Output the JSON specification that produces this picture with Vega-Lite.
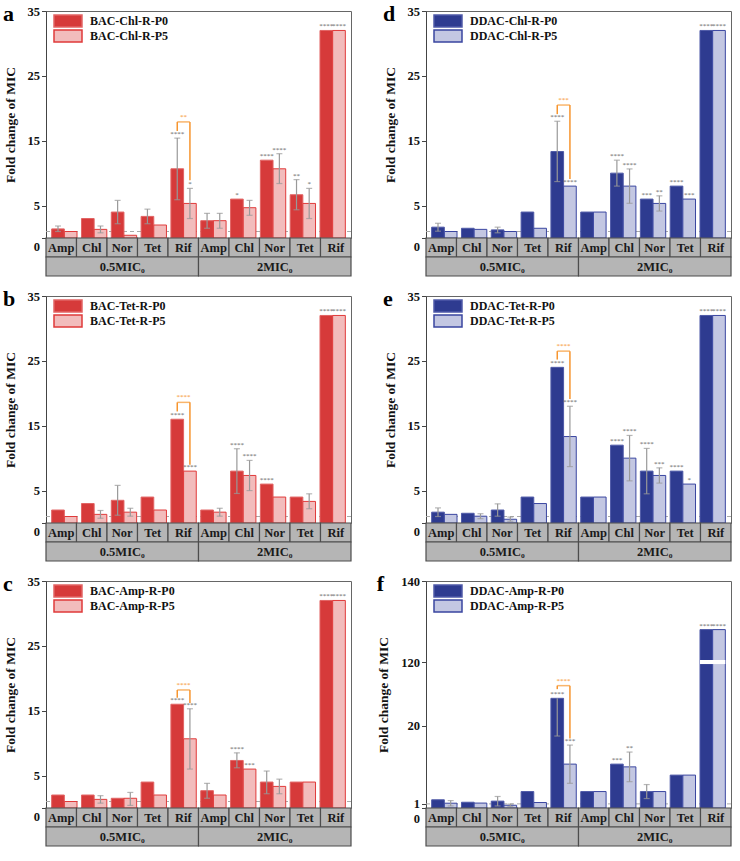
{
"$schema": "https://vega.github.io/schema/vega-lite/v6.json",
"padding": {"left": 2, "top": 2, "right": 2, "bottom": 2},
"background": "white",
"config": {
  "font": "Liberation Serif",
  "view": {"stroke": "#666666"},
  "axis": {"labelFont": "Liberation Serif", "labelFontWeight": "bold", "labelFontSize": 12.5, "labelColor": "#111111", "titleFont": "Liberation Serif", "titleFontWeight": "bold", "titleFontSize": 13.5, "titleColor": "#111111", "domainColor": "#444444", "tickColor": "#444444", "grid": false, "labelPadding": 2, "titlePadding": 10, "tickSize": 4.5, "labelOverlap": false, "labelFlush": false},
  "legend": {"title": null, "orient": "top-left", "offset": 4, "symbolType": "M-1,-3H13V3H-1Z", "symbolSize": 16, "symbolStrokeWidth": 1.5, "labelFontSize": 12, "labelFont": "Liberation Serif", "labelFontWeight": "bold", "labelColor": "#111111", "rowPadding": -3, "labelOffset": 28},
  "title": {"font": "Liberation Serif", "fontSize": 22, "fontWeight": "bold", "anchor": "start", "frame": "bounds", "offset": -21, "color": "#000000"}
},
"datasets": {
  "cells": [{"g":"0.5-Amp","lab":"Amp"},{"g":"0.5-Chl","lab":"Chl"},{"g":"0.5-Nor","lab":"Nor"},{"g":"0.5-Tet","lab":"Tet"},{"g":"0.5-Rif","lab":"Rif"},{"g":"2-Amp","lab":"Amp"},{"g":"2-Chl","lab":"Chl"},{"g":"2-Nor","lab":"Nor"},{"g":"2-Tet","lab":"Tet"},{"g":"2-Rif","lab":"Rif"}],
  "conc": [{"c":"0.5","lab":"0.5MIC₀"},{"c":"2","lab":"2MIC₀"}],
  "a": [
    {"g":"0.5-Amp","s":"BAC-Chl-R-P0","v":1.4,"lo":1.0,"hi":1.85,"sig":""},
    {"g":"0.5-Amp","s":"BAC-Chl-R-P5","v":1.0,"lo":1.0,"hi":1.0,"sig":""},
    {"g":"0.5-Chl","s":"BAC-Chl-R-P0","v":3.0,"lo":3.0,"hi":3.0,"sig":""},
    {"g":"0.5-Chl","s":"BAC-Chl-R-P5","v":1.33,"lo":0.8,"hi":1.85,"sig":""},
    {"g":"0.5-Nor","s":"BAC-Chl-R-P0","v":4.0,"lo":2.2,"hi":5.8,"sig":""},
    {"g":"0.5-Nor","s":"BAC-Chl-R-P5","v":0.42,"lo":0.42,"hi":0.42,"sig":""},
    {"g":"0.5-Tet","s":"BAC-Chl-R-P0","v":3.33,"lo":2.2,"hi":4.45,"sig":""},
    {"g":"0.5-Tet","s":"BAC-Chl-R-P5","v":2.0,"lo":2.0,"hi":2.0,"sig":""},
    {"g":"0.5-Rif","s":"BAC-Chl-R-P0","v":10.67,"lo":5.9,"hi":15.4,"sig":"****"},
    {"g":"0.5-Rif","s":"BAC-Chl-R-P5","v":5.33,"lo":3.0,"hi":7.65,"sig":"*"},
    {"g":"2-Amp","s":"BAC-Chl-R-P0","v":2.67,"lo":1.5,"hi":3.8,"sig":""},
    {"g":"2-Amp","s":"BAC-Chl-R-P5","v":2.67,"lo":1.5,"hi":3.8,"sig":""},
    {"g":"2-Chl","s":"BAC-Chl-R-P0","v":6.0,"lo":6.0,"hi":6.0,"sig":"*"},
    {"g":"2-Chl","s":"BAC-Chl-R-P5","v":4.67,"lo":3.5,"hi":5.8,"sig":""},
    {"g":"2-Nor","s":"BAC-Chl-R-P0","v":12.0,"lo":12.0,"hi":12.0,"sig":"****"},
    {"g":"2-Nor","s":"BAC-Chl-R-P5","v":10.67,"lo":8.4,"hi":13.0,"sig":"****"},
    {"g":"2-Tet","s":"BAC-Chl-R-P0","v":6.67,"lo":4.35,"hi":9.0,"sig":"**"},
    {"g":"2-Tet","s":"BAC-Chl-R-P5","v":5.33,"lo":3.0,"hi":7.65,"sig":"*"},
    {"g":"2-Rif","s":"BAC-Chl-R-P0","v":32,"lo":32,"hi":32,"sig":"****"},
    {"g":"2-Rif","s":"BAC-Chl-R-P5","v":32,"lo":32,"hi":32,"sig":"****"}
  ],
  "a_br": [{"g":"0.5-Rif","s":"BAC-Chl-R-P0","y1":16.5,"y2":17.9},{"g":"0.5-Rif","s":"BAC-Chl-R-P5","y1":8.9,"y2":17.9}],
  "a_bt": [{"g":"0.5-Rif","t":17.9,"lab":"**"}],
  "d": [
    {"g":"0.5-Amp","s":"DDAC-Chl-R-P0","v":1.67,"lo":1.05,"hi":2.27,"sig":""},
    {"g":"0.5-Amp","s":"DDAC-Chl-R-P5","v":1.0,"lo":1.0,"hi":1.0,"sig":""},
    {"g":"0.5-Chl","s":"DDAC-Chl-R-P0","v":1.5,"lo":1.5,"hi":1.5,"sig":""},
    {"g":"0.5-Chl","s":"DDAC-Chl-R-P5","v":1.33,"lo":1.33,"hi":1.33,"sig":""},
    {"g":"0.5-Nor","s":"DDAC-Chl-R-P0","v":1.25,"lo":0.8,"hi":1.67,"sig":""},
    {"g":"0.5-Nor","s":"DDAC-Chl-R-P5","v":1.0,"lo":1.0,"hi":1.0,"sig":""},
    {"g":"0.5-Tet","s":"DDAC-Chl-R-P0","v":4.0,"lo":4.0,"hi":4.0,"sig":""},
    {"g":"0.5-Tet","s":"DDAC-Chl-R-P5","v":1.5,"lo":1.5,"hi":1.5,"sig":""},
    {"g":"0.5-Rif","s":"DDAC-Chl-R-P0","v":13.33,"lo":8.7,"hi":18.0,"sig":"****"},
    {"g":"0.5-Rif","s":"DDAC-Chl-R-P5","v":8.0,"lo":8.0,"hi":8.0,"sig":"****"},
    {"g":"2-Amp","s":"DDAC-Chl-R-P0","v":4.0,"lo":4.0,"hi":4.0,"sig":""},
    {"g":"2-Amp","s":"DDAC-Chl-R-P5","v":4.0,"lo":4.0,"hi":4.0,"sig":""},
    {"g":"2-Chl","s":"DDAC-Chl-R-P0","v":10.0,"lo":8.0,"hi":12.0,"sig":"****"},
    {"g":"2-Chl","s":"DDAC-Chl-R-P5","v":8.0,"lo":5.35,"hi":10.65,"sig":"****"},
    {"g":"2-Nor","s":"DDAC-Chl-R-P0","v":6.0,"lo":6.0,"hi":6.0,"sig":"***"},
    {"g":"2-Nor","s":"DDAC-Chl-R-P5","v":5.33,"lo":4.15,"hi":6.5,"sig":"**"},
    {"g":"2-Tet","s":"DDAC-Chl-R-P0","v":8.0,"lo":8.0,"hi":8.0,"sig":"****"},
    {"g":"2-Tet","s":"DDAC-Chl-R-P5","v":6.0,"lo":6.0,"hi":6.0,"sig":"***"},
    {"g":"2-Rif","s":"DDAC-Chl-R-P0","v":32,"lo":32,"hi":32,"sig":"****"},
    {"g":"2-Rif","s":"DDAC-Chl-R-P5","v":32,"lo":32,"hi":32,"sig":"****"}
  ],
  "d_br": [{"g":"0.5-Rif","s":"DDAC-Chl-R-P0","y1":19.1,"y2":20.5},{"g":"0.5-Rif","s":"DDAC-Chl-R-P5","y1":9.1,"y2":20.5}],
  "d_bt": [{"g":"0.5-Rif","t":20.5,"lab":"***"}],
  "b": [
    {"g":"0.5-Amp","s":"BAC-Tet-R-P0","v":2.0,"lo":2.0,"hi":2.0,"sig":""},
    {"g":"0.5-Amp","s":"BAC-Tet-R-P5","v":1.0,"lo":1.0,"hi":1.0,"sig":""},
    {"g":"0.5-Chl","s":"BAC-Tet-R-P0","v":3.0,"lo":3.0,"hi":3.0,"sig":""},
    {"g":"0.5-Chl","s":"BAC-Tet-R-P5","v":1.33,"lo":0.73,"hi":1.93,"sig":""},
    {"g":"0.5-Nor","s":"BAC-Tet-R-P0","v":3.5,"lo":1.2,"hi":5.8,"sig":""},
    {"g":"0.5-Nor","s":"BAC-Tet-R-P5","v":1.67,"lo":1.05,"hi":2.27,"sig":""},
    {"g":"0.5-Tet","s":"BAC-Tet-R-P0","v":4.0,"lo":4.0,"hi":4.0,"sig":""},
    {"g":"0.5-Tet","s":"BAC-Tet-R-P5","v":2.0,"lo":2.0,"hi":2.0,"sig":""},
    {"g":"0.5-Rif","s":"BAC-Tet-R-P0","v":16.0,"lo":16.0,"hi":16.0,"sig":"****"},
    {"g":"0.5-Rif","s":"BAC-Tet-R-P5","v":8.0,"lo":8.0,"hi":8.0,"sig":"****"},
    {"g":"2-Amp","s":"BAC-Tet-R-P0","v":2.0,"lo":2.0,"hi":2.0,"sig":""},
    {"g":"2-Amp","s":"BAC-Tet-R-P5","v":1.67,"lo":1.05,"hi":2.27,"sig":""},
    {"g":"2-Chl","s":"BAC-Tet-R-P0","v":8.0,"lo":4.55,"hi":11.45,"sig":"****"},
    {"g":"2-Chl","s":"BAC-Tet-R-P5","v":7.33,"lo":5.0,"hi":9.65,"sig":"****"},
    {"g":"2-Nor","s":"BAC-Tet-R-P0","v":6.0,"lo":6.0,"hi":6.0,"sig":"****"},
    {"g":"2-Nor","s":"BAC-Tet-R-P5","v":4.0,"lo":4.0,"hi":4.0,"sig":""},
    {"g":"2-Tet","s":"BAC-Tet-R-P0","v":4.0,"lo":4.0,"hi":4.0,"sig":""},
    {"g":"2-Tet","s":"BAC-Tet-R-P5","v":3.33,"lo":2.2,"hi":4.5,"sig":""},
    {"g":"2-Rif","s":"BAC-Tet-R-P0","v":32,"lo":32,"hi":32,"sig":"****"},
    {"g":"2-Rif","s":"BAC-Tet-R-P5","v":32,"lo":32,"hi":32,"sig":"****"}
  ],
  "b_br": [{"g":"0.5-Rif","s":"BAC-Tet-R-P0","y1":17.2,"y2":18.6},{"g":"0.5-Rif","s":"BAC-Tet-R-P5","y1":9.0,"y2":18.6}],
  "b_bt": [{"g":"0.5-Rif","t":18.6,"lab":"****"}],
  "e": [
    {"g":"0.5-Amp","s":"DDAC-Tet-R-P0","v":1.67,"lo":1.0,"hi":2.33,"sig":""},
    {"g":"0.5-Amp","s":"DDAC-Tet-R-P5","v":1.33,"lo":1.33,"hi":1.33,"sig":""},
    {"g":"0.5-Chl","s":"DDAC-Tet-R-P0","v":1.5,"lo":1.5,"hi":1.5,"sig":""},
    {"g":"0.5-Chl","s":"DDAC-Tet-R-P5","v":1.05,"lo":0.67,"hi":1.43,"sig":""},
    {"g":"0.5-Nor","s":"DDAC-Tet-R-P0","v":2.0,"lo":1.05,"hi":2.95,"sig":""},
    {"g":"0.5-Nor","s":"DDAC-Tet-R-P5","v":0.58,"lo":0.27,"hi":0.92,"sig":""},
    {"g":"0.5-Tet","s":"DDAC-Tet-R-P0","v":4.0,"lo":4.0,"hi":4.0,"sig":""},
    {"g":"0.5-Tet","s":"DDAC-Tet-R-P5","v":3.0,"lo":3.0,"hi":3.0,"sig":""},
    {"g":"0.5-Rif","s":"DDAC-Tet-R-P0","v":24.0,"lo":24.0,"hi":24.0,"sig":"****"},
    {"g":"0.5-Rif","s":"DDAC-Tet-R-P5","v":13.33,"lo":8.7,"hi":18.0,"sig":"****"},
    {"g":"2-Amp","s":"DDAC-Tet-R-P0","v":4.0,"lo":4.0,"hi":4.0,"sig":""},
    {"g":"2-Amp","s":"DDAC-Tet-R-P5","v":4.0,"lo":4.0,"hi":4.0,"sig":""},
    {"g":"2-Chl","s":"DDAC-Tet-R-P0","v":12.0,"lo":12.0,"hi":12.0,"sig":"****"},
    {"g":"2-Chl","s":"DDAC-Tet-R-P5","v":10.0,"lo":6.5,"hi":13.5,"sig":"****"},
    {"g":"2-Nor","s":"DDAC-Tet-R-P0","v":8.0,"lo":4.5,"hi":11.5,"sig":"****"},
    {"g":"2-Nor","s":"DDAC-Tet-R-P5","v":7.33,"lo":6.15,"hi":8.5,"sig":"***"},
    {"g":"2-Tet","s":"DDAC-Tet-R-P0","v":8.0,"lo":8.0,"hi":8.0,"sig":"****"},
    {"g":"2-Tet","s":"DDAC-Tet-R-P5","v":6.0,"lo":6.0,"hi":6.0,"sig":"*"},
    {"g":"2-Rif","s":"DDAC-Tet-R-P0","v":32,"lo":32,"hi":32,"sig":"****"},
    {"g":"2-Rif","s":"DDAC-Tet-R-P5","v":32,"lo":32,"hi":32,"sig":"****"}
  ],
  "e_br": [{"g":"0.5-Rif","s":"DDAC-Tet-R-P0","y1":25.2,"y2":26.5},{"g":"0.5-Rif","s":"DDAC-Tet-R-P5","y1":19.1,"y2":26.5}],
  "e_bt": [{"g":"0.5-Rif","t":26.5,"lab":"****"}],
  "c": [
    {"g":"0.5-Amp","s":"BAC-Amp-R-P0","v":2.0,"lo":2.0,"hi":2.0,"sig":""},
    {"g":"0.5-Amp","s":"BAC-Amp-R-P5","v":1.0,"lo":1.0,"hi":1.0,"sig":""},
    {"g":"0.5-Chl","s":"BAC-Amp-R-P0","v":2.0,"lo":2.0,"hi":2.0,"sig":""},
    {"g":"0.5-Chl","s":"BAC-Amp-R-P5","v":1.33,"lo":0.75,"hi":1.9,"sig":""},
    {"g":"0.5-Nor","s":"BAC-Amp-R-P0","v":1.5,"lo":1.5,"hi":1.5,"sig":""},
    {"g":"0.5-Nor","s":"BAC-Amp-R-P5","v":1.5,"lo":0.4,"hi":2.4,"sig":""},
    {"g":"0.5-Tet","s":"BAC-Amp-R-P0","v":4.0,"lo":4.0,"hi":4.0,"sig":""},
    {"g":"0.5-Tet","s":"BAC-Amp-R-P5","v":2.0,"lo":2.0,"hi":2.0,"sig":""},
    {"g":"0.5-Rif","s":"BAC-Amp-R-P0","v":16.0,"lo":16.0,"hi":16.0,"sig":"****"},
    {"g":"0.5-Rif","s":"BAC-Amp-R-P5","v":10.67,"lo":6.0,"hi":15.3,"sig":"****"},
    {"g":"2-Amp","s":"BAC-Amp-R-P0","v":2.67,"lo":1.5,"hi":3.8,"sig":""},
    {"g":"2-Amp","s":"BAC-Amp-R-P5","v":2.0,"lo":2.0,"hi":2.0,"sig":""},
    {"g":"2-Chl","s":"BAC-Amp-R-P0","v":7.33,"lo":6.2,"hi":8.5,"sig":"****"},
    {"g":"2-Chl","s":"BAC-Amp-R-P5","v":6.0,"lo":6.0,"hi":6.0,"sig":"***"},
    {"g":"2-Nor","s":"BAC-Amp-R-P0","v":4.0,"lo":2.2,"hi":5.7,"sig":""},
    {"g":"2-Nor","s":"BAC-Amp-R-P5","v":3.33,"lo":2.2,"hi":4.45,"sig":""},
    {"g":"2-Tet","s":"BAC-Amp-R-P0","v":4.0,"lo":4.0,"hi":4.0,"sig":""},
    {"g":"2-Tet","s":"BAC-Amp-R-P5","v":4.0,"lo":4.0,"hi":4.0,"sig":""},
    {"g":"2-Rif","s":"BAC-Amp-R-P0","v":32,"lo":32,"hi":32,"sig":"****"},
    {"g":"2-Rif","s":"BAC-Amp-R-P5","v":32,"lo":32,"hi":32,"sig":"****"}
  ],
  "c_br": [{"g":"0.5-Rif","s":"BAC-Amp-R-P0","y1":17.0,"y2":18.2},{"g":"0.5-Rif","s":"BAC-Amp-R-P5","y1":16.2,"y2":18.2}],
  "c_bt": [{"g":"0.5-Rif","t":18.2,"lab":"****"}],
  "f": [
    {"g":"0.5-Amp","s":"DDAC-Amp-R-P0","v":2.0,"lo":2.0,"hi":2.0,"sig":""},
    {"g":"0.5-Amp","s":"DDAC-Amp-R-P5","v":1.17,"lo":0.5,"hi":1.8,"sig":""},
    {"g":"0.5-Chl","s":"DDAC-Amp-R-P0","v":1.4,"lo":1.4,"hi":1.4,"sig":""},
    {"g":"0.5-Chl","s":"DDAC-Amp-R-P5","v":1.2,"lo":1.2,"hi":1.2,"sig":""},
    {"g":"0.5-Nor","s":"DDAC-Amp-R-P0","v":1.67,"lo":0.5,"hi":2.8,"sig":""},
    {"g":"0.5-Nor","s":"DDAC-Amp-R-P5","v":0.67,"lo":0.35,"hi":0.95,"sig":""},
    {"g":"0.5-Tet","s":"DDAC-Amp-R-P0","v":4.0,"lo":4.0,"hi":4.0,"sig":""},
    {"g":"0.5-Tet","s":"DDAC-Amp-R-P5","v":1.33,"lo":1.33,"hi":1.33,"sig":""},
    {"g":"0.5-Rif","s":"DDAC-Amp-R-P0","v":26.67,"lo":17.5,"hi":26.67,"sig":"****"},
    {"g":"0.5-Rif","s":"DDAC-Amp-R-P5","v":10.67,"lo":6.0,"hi":15.3,"sig":"***"},
    {"g":"2-Amp","s":"DDAC-Amp-R-P0","v":4.0,"lo":4.0,"hi":4.0,"sig":""},
    {"g":"2-Amp","s":"DDAC-Amp-R-P5","v":4.0,"lo":4.0,"hi":4.0,"sig":""},
    {"g":"2-Chl","s":"DDAC-Amp-R-P0","v":10.67,"lo":10.67,"hi":10.67,"sig":"***"},
    {"g":"2-Chl","s":"DDAC-Amp-R-P5","v":10.0,"lo":6.4,"hi":13.6,"sig":"**"},
    {"g":"2-Nor","s":"DDAC-Amp-R-P0","v":4.0,"lo":2.3,"hi":5.7,"sig":""},
    {"g":"2-Nor","s":"DDAC-Amp-R-P5","v":4.0,"lo":4.0,"hi":4.0,"sig":""},
    {"g":"2-Tet","s":"DDAC-Amp-R-P0","v":8.0,"lo":8.0,"hi":8.0,"sig":""},
    {"g":"2-Tet","s":"DDAC-Amp-R-P5","v":8.0,"lo":8.0,"hi":8.0,"sig":""},
    {"g":"2-Rif","s":"DDAC-Amp-R-P0","v":128,"lo":128,"hi":128,"sig":"****"},
    {"g":"2-Rif","s":"DDAC-Amp-R-P5","v":128,"lo":128,"hi":128,"sig":"****"}
  ],
  "f_br": [{"g":"0.5-Rif","s":"DDAC-Amp-R-P0","y1":28.9,"y2":29.75},{"g":"0.5-Rif","s":"DDAC-Amp-R-P5","y1":16.9,"y2":29.75}],
  "f_bt": [{"g":"0.5-Rif","t":29.75,"lab":"****"}],
  "f_gap": [{"g":"2-Rif","b1":35,"b2":120.5}]
},
"concat": [
 {"vconcat": [
  {"width":305,"height":227,"title":{"text":"a"},
   "layer":[
    {"data":{"values":[{}]},"mark":{"type":"rule","color":"#aaaaaa","strokeDash":[4,3],"strokeWidth":1},"encoding":{"y":{"datum":1,"type":"quantitative","scale":{"domain":[0,35],"nice":false},"axis":{"title":"Fold change of MIC","labelOverlap":false,"labelFlush":false,"values":[0,1,5,10,15,20,25,30,35],"labelOffset":{"condition":{"test":"datum.value == 0","value":8.5},"value":0}}}}},
    {"data":{"name":"a"},"mark":{"type":"bar","strokeWidth":1},
     "encoding":{
      "x":{"field":"g","type":"nominal","sort":null,"scale":{"domain":["0.5-Amp","0.5-Chl","0.5-Nor","0.5-Tet","0.5-Rif","2-Amp","2-Chl","2-Nor","2-Tet","2-Rif"],"paddingInner":0.15,"paddingOuter":0.19},"axis":null},
      "xOffset":{"field":"s","type":"nominal","scale":{"paddingInner":0,"paddingOuter":0}},
      "y":{"field":"v","type":"quantitative","scale":{"domain":[0,35],"nice":false},"axis":{"title":"Fold change of MIC","labelOverlap":false,"labelFlush":false,"values":[0,1,5,10,15,20,25,30,35],"labelOffset":{"condition":{"test":"datum.value == 0","value":8.5},"value":0}}},
      "fill":{"field":"s","type":"nominal","scale":{"range":["#d63a3a","#f2bcbc"]}},
      "stroke":{"field":"s","type":"nominal","scale":{"range":["#e26464","#e03a3a"]}}}},
    {"data":{"name":"a"},"transform":[{"filter":"datum.hi > datum.lo"}],"mark":{"type":"rule","color":"#999999","strokeWidth":1.2},
     "encoding":{"x":{"field":"g","type":"nominal"},"xOffset":{"field":"s","type":"nominal"},"y":{"field":"lo","type":"quantitative"},"y2":{"field":"hi"}}},
    {"data":{"name":"a"},"transform":[{"filter":"datum.lo < datum.v"}],"mark":{"type":"tick","color":"#999999","size":6,"thickness":1.2},
     "encoding":{"x":{"field":"g","type":"nominal"},"xOffset":{"field":"s","type":"nominal"},"y":{"field":"lo","type":"quantitative"}}},
    {"data":{"name":"a"},"transform":[{"filter":"datum.hi > datum.v"}],"mark":{"type":"tick","color":"#999999","size":6,"thickness":1.2},
     "encoding":{"x":{"field":"g","type":"nominal"},"xOffset":{"field":"s","type":"nominal"},"y":{"field":"hi","type":"quantitative"}}},
    {"data":{"name":"a"},"mark":{"type":"text","fontSize":7,"color":"#666666","baseline":"bottom","dy":-1},
     "encoding":{"x":{"field":"g","type":"nominal"},"xOffset":{"field":"s","type":"nominal"},"y":{"field":"hi","type":"quantitative"},"text":{"field":"sig"}}},
    {"data":{"name":"a_br"},"mark":{"type":"rule","color":"#f7952e","strokeWidth":1.5},
     "encoding":{"x":{"field":"g","type":"nominal"},"xOffset":{"field":"s","type":"nominal"},"y":{"field":"y1","type":"quantitative"},"y2":{"field":"y2"}}},
    {"data":{"name":"a_bt"},"mark":{"type":"tick","color":"#f7952e","size":12.7,"thickness":1.5},
     "encoding":{"x":{"field":"g","type":"nominal"},"y":{"field":"t","type":"quantitative"}}},
    {"data":{"name":"a_bt"},"mark":{"type":"text","color":"#f7952e","fontSize":7,"baseline":"bottom","dy":-2},
     "encoding":{"x":{"field":"g","type":"nominal"},"y":{"field":"t","type":"quantitative"},"text":{"field":"lab"}}}
   ]},
  {"width":305,"height":19,"view":{"stroke":null},"data":{"name":"cells"},"layer":[
    {"mark":{"type":"rect","fill":"#b5b5b5","stroke":"#4d4d4d","strokeWidth":1.2},"encoding":{"x":{"field":"g","type":"nominal","sort":null,"scale":{"paddingInner":0,"paddingOuter":0},"axis":null}}},
    {"mark":{"type":"text","fontWeight":"bold","fontSize":12.5,"color":"#1a1a1a"},"encoding":{"x":{"field":"g","type":"nominal","sort":null,"axis":null},"text":{"field":"lab"}}}]},
  {"width":305,"height":19,"view":{"stroke":null},"data":{"name":"conc"},"layer":[
    {"mark":{"type":"rect","fill":"#b5b5b5","stroke":"#4d4d4d","strokeWidth":1.2},"encoding":{"x":{"field":"c","type":"nominal","sort":null,"scale":{"paddingInner":0,"paddingOuter":0},"axis":null}}},
    {"mark":{"type":"text","fontWeight":"bold","fontSize":12.5,"color":"#1a1a1a"},"encoding":{"x":{"field":"c","type":"nominal","sort":null,"axis":null},"text":{"field":"lab"}}}]}
 ], "spacing":0, "bounds":"flush", "resolve":{"scale":{"x":"independent","y":"independent","xOffset":"independent","fill":"independent","stroke":"independent"},"legend":{"fill":"independent","stroke":"independent"}}},

 {"vconcat": [
  {"width":305,"height":227,"title":{"text":"d"},
   "layer":[
    {"data":{"values":[{}]},"mark":{"type":"rule","color":"#aaaaaa","strokeDash":[4,3],"strokeWidth":1},"encoding":{"y":{"datum":1,"type":"quantitative","scale":{"domain":[0,35],"nice":false},"axis":{"title":"Fold change of MIC","labelOverlap":false,"labelFlush":false,"values":[0,1,5,10,15,20,25,30,35],"labelOffset":{"condition":{"test":"datum.value == 0","value":8.5},"value":0}}}}},
    {"data":{"name":"d"},"mark":{"type":"bar","strokeWidth":1},
     "encoding":{
      "x":{"field":"g","type":"nominal","sort":null,"scale":{"domain":["0.5-Amp","0.5-Chl","0.5-Nor","0.5-Tet","0.5-Rif","2-Amp","2-Chl","2-Nor","2-Tet","2-Rif"],"paddingInner":0.15,"paddingOuter":0.19},"axis":null},
      "xOffset":{"field":"s","type":"nominal","scale":{"paddingInner":0,"paddingOuter":0}},
      "y":{"field":"v","type":"quantitative","scale":{"domain":[0,35],"nice":false},"axis":{"title":"Fold change of MIC","labelOverlap":false,"labelFlush":false,"values":[0,1,5,10,15,20,25,30,35],"labelOffset":{"condition":{"test":"datum.value == 0","value":8.5},"value":0}}},
      "fill":{"field":"s","type":"nominal","scale":{"range":["#2e3b90","#c3c7e2"]}},
      "stroke":{"field":"s","type":"nominal","scale":{"range":["#4f5aa8","#3a46a0"]}}}},
    {"data":{"name":"d"},"transform":[{"filter":"datum.hi > datum.lo"}],"mark":{"type":"rule","color":"#999999","strokeWidth":1.2},
     "encoding":{"x":{"field":"g","type":"nominal"},"xOffset":{"field":"s","type":"nominal"},"y":{"field":"lo","type":"quantitative"},"y2":{"field":"hi"}}},
    {"data":{"name":"d"},"transform":[{"filter":"datum.lo < datum.v"}],"mark":{"type":"tick","color":"#999999","size":6,"thickness":1.2},
     "encoding":{"x":{"field":"g","type":"nominal"},"xOffset":{"field":"s","type":"nominal"},"y":{"field":"lo","type":"quantitative"}}},
    {"data":{"name":"d"},"transform":[{"filter":"datum.hi > datum.v"}],"mark":{"type":"tick","color":"#999999","size":6,"thickness":1.2},
     "encoding":{"x":{"field":"g","type":"nominal"},"xOffset":{"field":"s","type":"nominal"},"y":{"field":"hi","type":"quantitative"}}},
    {"data":{"name":"d"},"mark":{"type":"text","fontSize":7,"color":"#666666","baseline":"bottom","dy":-1},
     "encoding":{"x":{"field":"g","type":"nominal"},"xOffset":{"field":"s","type":"nominal"},"y":{"field":"hi","type":"quantitative"},"text":{"field":"sig"}}},
    {"data":{"name":"d_br"},"mark":{"type":"rule","color":"#f7952e","strokeWidth":1.5},
     "encoding":{"x":{"field":"g","type":"nominal"},"xOffset":{"field":"s","type":"nominal"},"y":{"field":"y1","type":"quantitative"},"y2":{"field":"y2"}}},
    {"data":{"name":"d_bt"},"mark":{"type":"tick","color":"#f7952e","size":12.7,"thickness":1.5},
     "encoding":{"x":{"field":"g","type":"nominal"},"y":{"field":"t","type":"quantitative"}}},
    {"data":{"name":"d_bt"},"mark":{"type":"text","color":"#f7952e","fontSize":7,"baseline":"bottom","dy":-2},
     "encoding":{"x":{"field":"g","type":"nominal"},"y":{"field":"t","type":"quantitative"},"text":{"field":"lab"}}}
   ]},
  {"width":305,"height":19,"view":{"stroke":null},"data":{"name":"cells"},"layer":[
    {"mark":{"type":"rect","fill":"#b5b5b5","stroke":"#4d4d4d","strokeWidth":1.2},"encoding":{"x":{"field":"g","type":"nominal","sort":null,"scale":{"paddingInner":0,"paddingOuter":0},"axis":null}}},
    {"mark":{"type":"text","fontWeight":"bold","fontSize":12.5,"color":"#1a1a1a"},"encoding":{"x":{"field":"g","type":"nominal","sort":null,"axis":null},"text":{"field":"lab"}}}]},
  {"width":305,"height":19,"view":{"stroke":null},"data":{"name":"conc"},"layer":[
    {"mark":{"type":"rect","fill":"#b5b5b5","stroke":"#4d4d4d","strokeWidth":1.2},"encoding":{"x":{"field":"c","type":"nominal","sort":null,"scale":{"paddingInner":0,"paddingOuter":0},"axis":null}}},
    {"mark":{"type":"text","fontWeight":"bold","fontSize":12.5,"color":"#1a1a1a"},"encoding":{"x":{"field":"c","type":"nominal","sort":null,"axis":null},"text":{"field":"lab"}}}]}
 ], "spacing":0, "bounds":"flush", "resolve":{"scale":{"x":"independent","y":"independent","xOffset":"independent","fill":"independent","stroke":"independent"},"legend":{"fill":"independent","stroke":"independent"}}},

 {"vconcat": [
  {"width":305,"height":227,"title":{"text":"b"},
   "layer":[
    {"data":{"values":[{}]},"mark":{"type":"rule","color":"#aaaaaa","strokeDash":[4,3],"strokeWidth":1},"encoding":{"y":{"datum":1,"type":"quantitative","scale":{"domain":[0,35],"nice":false},"axis":{"title":"Fold change of MIC","labelOverlap":false,"labelFlush":false,"values":[0,1,5,10,15,20,25,30,35],"labelOffset":{"condition":{"test":"datum.value == 0","value":8.5},"value":0}}}}},
    {"data":{"name":"b"},"mark":{"type":"bar","strokeWidth":1},
     "encoding":{
      "x":{"field":"g","type":"nominal","sort":null,"scale":{"domain":["0.5-Amp","0.5-Chl","0.5-Nor","0.5-Tet","0.5-Rif","2-Amp","2-Chl","2-Nor","2-Tet","2-Rif"],"paddingInner":0.15,"paddingOuter":0.19},"axis":null},
      "xOffset":{"field":"s","type":"nominal","scale":{"paddingInner":0,"paddingOuter":0}},
      "y":{"field":"v","type":"quantitative","scale":{"domain":[0,35],"nice":false},"axis":{"title":"Fold change of MIC","labelOverlap":false,"labelFlush":false,"values":[0,1,5,10,15,20,25,30,35],"labelOffset":{"condition":{"test":"datum.value == 0","value":8.5},"value":0}}},
      "fill":{"field":"s","type":"nominal","scale":{"range":["#d63a3a","#f2bcbc"]}},
      "stroke":{"field":"s","type":"nominal","scale":{"range":["#e26464","#e03a3a"]}}}},
    {"data":{"name":"b"},"transform":[{"filter":"datum.hi > datum.lo"}],"mark":{"type":"rule","color":"#999999","strokeWidth":1.2},
     "encoding":{"x":{"field":"g","type":"nominal"},"xOffset":{"field":"s","type":"nominal"},"y":{"field":"lo","type":"quantitative"},"y2":{"field":"hi"}}},
    {"data":{"name":"b"},"transform":[{"filter":"datum.lo < datum.v"}],"mark":{"type":"tick","color":"#999999","size":6,"thickness":1.2},
     "encoding":{"x":{"field":"g","type":"nominal"},"xOffset":{"field":"s","type":"nominal"},"y":{"field":"lo","type":"quantitative"}}},
    {"data":{"name":"b"},"transform":[{"filter":"datum.hi > datum.v"}],"mark":{"type":"tick","color":"#999999","size":6,"thickness":1.2},
     "encoding":{"x":{"field":"g","type":"nominal"},"xOffset":{"field":"s","type":"nominal"},"y":{"field":"hi","type":"quantitative"}}},
    {"data":{"name":"b"},"mark":{"type":"text","fontSize":7,"color":"#666666","baseline":"bottom","dy":-1},
     "encoding":{"x":{"field":"g","type":"nominal"},"xOffset":{"field":"s","type":"nominal"},"y":{"field":"hi","type":"quantitative"},"text":{"field":"sig"}}},
    {"data":{"name":"b_br"},"mark":{"type":"rule","color":"#f7952e","strokeWidth":1.5},
     "encoding":{"x":{"field":"g","type":"nominal"},"xOffset":{"field":"s","type":"nominal"},"y":{"field":"y1","type":"quantitative"},"y2":{"field":"y2"}}},
    {"data":{"name":"b_bt"},"mark":{"type":"tick","color":"#f7952e","size":12.7,"thickness":1.5},
     "encoding":{"x":{"field":"g","type":"nominal"},"y":{"field":"t","type":"quantitative"}}},
    {"data":{"name":"b_bt"},"mark":{"type":"text","color":"#f7952e","fontSize":7,"baseline":"bottom","dy":-2},
     "encoding":{"x":{"field":"g","type":"nominal"},"y":{"field":"t","type":"quantitative"},"text":{"field":"lab"}}}
   ]},
  {"width":305,"height":19,"view":{"stroke":null},"data":{"name":"cells"},"layer":[
    {"mark":{"type":"rect","fill":"#b5b5b5","stroke":"#4d4d4d","strokeWidth":1.2},"encoding":{"x":{"field":"g","type":"nominal","sort":null,"scale":{"paddingInner":0,"paddingOuter":0},"axis":null}}},
    {"mark":{"type":"text","fontWeight":"bold","fontSize":12.5,"color":"#1a1a1a"},"encoding":{"x":{"field":"g","type":"nominal","sort":null,"axis":null},"text":{"field":"lab"}}}]},
  {"width":305,"height":19,"view":{"stroke":null},"data":{"name":"conc"},"layer":[
    {"mark":{"type":"rect","fill":"#b5b5b5","stroke":"#4d4d4d","strokeWidth":1.2},"encoding":{"x":{"field":"c","type":"nominal","sort":null,"scale":{"paddingInner":0,"paddingOuter":0},"axis":null}}},
    {"mark":{"type":"text","fontWeight":"bold","fontSize":12.5,"color":"#1a1a1a"},"encoding":{"x":{"field":"c","type":"nominal","sort":null,"axis":null},"text":{"field":"lab"}}}]}
 ], "spacing":0, "bounds":"flush", "resolve":{"scale":{"x":"independent","y":"independent","xOffset":"independent","fill":"independent","stroke":"independent"},"legend":{"fill":"independent","stroke":"independent"}}},

 {"vconcat": [
  {"width":305,"height":227,"title":{"text":"e"},
   "layer":[
    {"data":{"values":[{}]},"mark":{"type":"rule","color":"#aaaaaa","strokeDash":[4,3],"strokeWidth":1},"encoding":{"y":{"datum":1,"type":"quantitative","scale":{"domain":[0,35],"nice":false},"axis":{"title":"Fold change of MIC","labelOverlap":false,"labelFlush":false,"values":[0,1,5,10,15,20,25,30,35],"labelOffset":{"condition":{"test":"datum.value == 0","value":8.5},"value":0}}}}},
    {"data":{"name":"e"},"mark":{"type":"bar","strokeWidth":1},
     "encoding":{
      "x":{"field":"g","type":"nominal","sort":null,"scale":{"domain":["0.5-Amp","0.5-Chl","0.5-Nor","0.5-Tet","0.5-Rif","2-Amp","2-Chl","2-Nor","2-Tet","2-Rif"],"paddingInner":0.15,"paddingOuter":0.19},"axis":null},
      "xOffset":{"field":"s","type":"nominal","scale":{"paddingInner":0,"paddingOuter":0}},
      "y":{"field":"v","type":"quantitative","scale":{"domain":[0,35],"nice":false},"axis":{"title":"Fold change of MIC","labelOverlap":false,"labelFlush":false,"values":[0,1,5,10,15,20,25,30,35],"labelOffset":{"condition":{"test":"datum.value == 0","value":8.5},"value":0}}},
      "fill":{"field":"s","type":"nominal","scale":{"range":["#2e3b90","#c3c7e2"]}},
      "stroke":{"field":"s","type":"nominal","scale":{"range":["#4f5aa8","#3a46a0"]}}}},
    {"data":{"name":"e"},"transform":[{"filter":"datum.hi > datum.lo"}],"mark":{"type":"rule","color":"#999999","strokeWidth":1.2},
     "encoding":{"x":{"field":"g","type":"nominal"},"xOffset":{"field":"s","type":"nominal"},"y":{"field":"lo","type":"quantitative"},"y2":{"field":"hi"}}},
    {"data":{"name":"e"},"transform":[{"filter":"datum.lo < datum.v"}],"mark":{"type":"tick","color":"#999999","size":6,"thickness":1.2},
     "encoding":{"x":{"field":"g","type":"nominal"},"xOffset":{"field":"s","type":"nominal"},"y":{"field":"lo","type":"quantitative"}}},
    {"data":{"name":"e"},"transform":[{"filter":"datum.hi > datum.v"}],"mark":{"type":"tick","color":"#999999","size":6,"thickness":1.2},
     "encoding":{"x":{"field":"g","type":"nominal"},"xOffset":{"field":"s","type":"nominal"},"y":{"field":"hi","type":"quantitative"}}},
    {"data":{"name":"e"},"mark":{"type":"text","fontSize":7,"color":"#666666","baseline":"bottom","dy":-1},
     "encoding":{"x":{"field":"g","type":"nominal"},"xOffset":{"field":"s","type":"nominal"},"y":{"field":"hi","type":"quantitative"},"text":{"field":"sig"}}},
    {"data":{"name":"e_br"},"mark":{"type":"rule","color":"#f7952e","strokeWidth":1.5},
     "encoding":{"x":{"field":"g","type":"nominal"},"xOffset":{"field":"s","type":"nominal"},"y":{"field":"y1","type":"quantitative"},"y2":{"field":"y2"}}},
    {"data":{"name":"e_bt"},"mark":{"type":"tick","color":"#f7952e","size":12.7,"thickness":1.5},
     "encoding":{"x":{"field":"g","type":"nominal"},"y":{"field":"t","type":"quantitative"}}},
    {"data":{"name":"e_bt"},"mark":{"type":"text","color":"#f7952e","fontSize":7,"baseline":"bottom","dy":-2},
     "encoding":{"x":{"field":"g","type":"nominal"},"y":{"field":"t","type":"quantitative"},"text":{"field":"lab"}}}
   ]},
  {"width":305,"height":19,"view":{"stroke":null},"data":{"name":"cells"},"layer":[
    {"mark":{"type":"rect","fill":"#b5b5b5","stroke":"#4d4d4d","strokeWidth":1.2},"encoding":{"x":{"field":"g","type":"nominal","sort":null,"scale":{"paddingInner":0,"paddingOuter":0},"axis":null}}},
    {"mark":{"type":"text","fontWeight":"bold","fontSize":12.5,"color":"#1a1a1a"},"encoding":{"x":{"field":"g","type":"nominal","sort":null,"axis":null},"text":{"field":"lab"}}}]},
  {"width":305,"height":19,"view":{"stroke":null},"data":{"name":"conc"},"layer":[
    {"mark":{"type":"rect","fill":"#b5b5b5","stroke":"#4d4d4d","strokeWidth":1.2},"encoding":{"x":{"field":"c","type":"nominal","sort":null,"scale":{"paddingInner":0,"paddingOuter":0},"axis":null}}},
    {"mark":{"type":"text","fontWeight":"bold","fontSize":12.5,"color":"#1a1a1a"},"encoding":{"x":{"field":"c","type":"nominal","sort":null,"axis":null},"text":{"field":"lab"}}}]}
 ], "spacing":0, "bounds":"flush", "resolve":{"scale":{"x":"independent","y":"independent","xOffset":"independent","fill":"independent","stroke":"independent"},"legend":{"fill":"independent","stroke":"independent"}}},

 {"vconcat": [
  {"width":305,"height":227,"title":{"text":"c"},
   "layer":[
    {"data":{"values":[{}]},"mark":{"type":"rule","color":"#aaaaaa","strokeDash":[4,3],"strokeWidth":1},"encoding":{"y":{"datum":1,"type":"quantitative","scale":{"domain":[0,35],"nice":false},"axis":{"title":"Fold change of MIC","labelOverlap":false,"labelFlush":false,"values":[0,1,5,10,15,20,25,30,35],"labelOffset":{"condition":{"test":"datum.value == 0","value":8.5},"value":0}}}}},
    {"data":{"name":"c"},"mark":{"type":"bar","strokeWidth":1},
     "encoding":{
      "x":{"field":"g","type":"nominal","sort":null,"scale":{"domain":["0.5-Amp","0.5-Chl","0.5-Nor","0.5-Tet","0.5-Rif","2-Amp","2-Chl","2-Nor","2-Tet","2-Rif"],"paddingInner":0.15,"paddingOuter":0.19},"axis":null},
      "xOffset":{"field":"s","type":"nominal","scale":{"paddingInner":0,"paddingOuter":0}},
      "y":{"field":"v","type":"quantitative","scale":{"domain":[0,35],"nice":false},"axis":{"title":"Fold change of MIC","labelOverlap":false,"labelFlush":false,"values":[0,1,5,10,15,20,25,30,35],"labelOffset":{"condition":{"test":"datum.value == 0","value":8.5},"value":0}}},
      "fill":{"field":"s","type":"nominal","scale":{"range":["#d63a3a","#f2bcbc"]}},
      "stroke":{"field":"s","type":"nominal","scale":{"range":["#e26464","#e03a3a"]}}}},
    {"data":{"name":"c"},"transform":[{"filter":"datum.hi > datum.lo"}],"mark":{"type":"rule","color":"#999999","strokeWidth":1.2},
     "encoding":{"x":{"field":"g","type":"nominal"},"xOffset":{"field":"s","type":"nominal"},"y":{"field":"lo","type":"quantitative"},"y2":{"field":"hi"}}},
    {"data":{"name":"c"},"transform":[{"filter":"datum.lo < datum.v"}],"mark":{"type":"tick","color":"#999999","size":6,"thickness":1.2},
     "encoding":{"x":{"field":"g","type":"nominal"},"xOffset":{"field":"s","type":"nominal"},"y":{"field":"lo","type":"quantitative"}}},
    {"data":{"name":"c"},"transform":[{"filter":"datum.hi > datum.v"}],"mark":{"type":"tick","color":"#999999","size":6,"thickness":1.2},
     "encoding":{"x":{"field":"g","type":"nominal"},"xOffset":{"field":"s","type":"nominal"},"y":{"field":"hi","type":"quantitative"}}},
    {"data":{"name":"c"},"mark":{"type":"text","fontSize":7,"color":"#666666","baseline":"bottom","dy":-1},
     "encoding":{"x":{"field":"g","type":"nominal"},"xOffset":{"field":"s","type":"nominal"},"y":{"field":"hi","type":"quantitative"},"text":{"field":"sig"}}},
    {"data":{"name":"c_br"},"mark":{"type":"rule","color":"#f7952e","strokeWidth":1.5},
     "encoding":{"x":{"field":"g","type":"nominal"},"xOffset":{"field":"s","type":"nominal"},"y":{"field":"y1","type":"quantitative"},"y2":{"field":"y2"}}},
    {"data":{"name":"c_bt"},"mark":{"type":"tick","color":"#f7952e","size":12.7,"thickness":1.5},
     "encoding":{"x":{"field":"g","type":"nominal"},"y":{"field":"t","type":"quantitative"}}},
    {"data":{"name":"c_bt"},"mark":{"type":"text","color":"#f7952e","fontSize":7,"baseline":"bottom","dy":-2},
     "encoding":{"x":{"field":"g","type":"nominal"},"y":{"field":"t","type":"quantitative"},"text":{"field":"lab"}}}
   ]},
  {"width":305,"height":19,"view":{"stroke":null},"data":{"name":"cells"},"layer":[
    {"mark":{"type":"rect","fill":"#b5b5b5","stroke":"#4d4d4d","strokeWidth":1.2},"encoding":{"x":{"field":"g","type":"nominal","sort":null,"scale":{"paddingInner":0,"paddingOuter":0},"axis":null}}},
    {"mark":{"type":"text","fontWeight":"bold","fontSize":12.5,"color":"#1a1a1a"},"encoding":{"x":{"field":"g","type":"nominal","sort":null,"axis":null},"text":{"field":"lab"}}}]},
  {"width":305,"height":19,"view":{"stroke":null},"data":{"name":"conc"},"layer":[
    {"mark":{"type":"rect","fill":"#b5b5b5","stroke":"#4d4d4d","strokeWidth":1.2},"encoding":{"x":{"field":"c","type":"nominal","sort":null,"scale":{"paddingInner":0,"paddingOuter":0},"axis":null}}},
    {"mark":{"type":"text","fontWeight":"bold","fontSize":12.5,"color":"#1a1a1a"},"encoding":{"x":{"field":"c","type":"nominal","sort":null,"axis":null},"text":{"field":"lab"}}}]}
 ], "spacing":0, "bounds":"flush", "resolve":{"scale":{"x":"independent","y":"independent","xOffset":"independent","fill":"independent","stroke":"independent"},"legend":{"fill":"independent","stroke":"independent"}}},

 {"vconcat": [
  {"width":305,"height":227,"title":{"text":"f"},
   "layer":[
    {"data":{"values":[{}]},"mark":{"type":"rule","color":"#aaaaaa","strokeDash":[4,3],"strokeWidth":1},"encoding":{"y":{"datum":1,"type":"quantitative","scale":{"domain":[0,35.5,120,140],"range":[227,81,81,0],"nice":false,"zero":false},"axis":{"title":"Fold change of MIC","labelOverlap":false,"labelFlush":false,"values":[0,1,20,120,140],"labelOffset":{"condition":{"test":"datum.value == 0","value":10.5},"value":0}}}}},
    {"data":{"name":"f"},"mark":{"type":"bar","strokeWidth":1},
     "encoding":{
      "x":{"field":"g","type":"nominal","sort":null,"scale":{"domain":["0.5-Amp","0.5-Chl","0.5-Nor","0.5-Tet","0.5-Rif","2-Amp","2-Chl","2-Nor","2-Tet","2-Rif"],"paddingInner":0.15,"paddingOuter":0.19},"axis":null},
      "xOffset":{"field":"s","type":"nominal","scale":{"paddingInner":0,"paddingOuter":0}},
      "y":{"field":"v","type":"quantitative","scale":{"domain":[0,35.5,120,140],"range":[227,81,81,0],"nice":false,"zero":false},"axis":{"title":"Fold change of MIC","labelOverlap":false,"labelFlush":false,"values":[0,1,20,120,140],"labelOffset":{"condition":{"test":"datum.value == 0","value":10.5},"value":0}}},
      "fill":{"field":"s","type":"nominal","scale":{"range":["#2e3b90","#c3c7e2"]}},
      "stroke":{"field":"s","type":"nominal","scale":{"range":["#4f5aa8","#3a46a0"]}}}},
    {"data":{"name":"f_gap"},"mark":{"type":"rect","fill":"white"},
     "encoding":{"x":{"field":"g","type":"nominal"},"y":{"field":"b1","type":"quantitative"},"y2":{"field":"b2"}}},
    {"data":{"name":"f"},"transform":[{"filter":"datum.hi > datum.lo"}],"mark":{"type":"rule","color":"#999999","strokeWidth":1.2},
     "encoding":{"x":{"field":"g","type":"nominal"},"xOffset":{"field":"s","type":"nominal"},"y":{"field":"lo","type":"quantitative"},"y2":{"field":"hi"}}},
    {"data":{"name":"f"},"transform":[{"filter":"datum.lo < datum.v"}],"mark":{"type":"tick","color":"#999999","size":6,"thickness":1.2},
     "encoding":{"x":{"field":"g","type":"nominal"},"xOffset":{"field":"s","type":"nominal"},"y":{"field":"lo","type":"quantitative"}}},
    {"data":{"name":"f"},"transform":[{"filter":"datum.hi > datum.v"}],"mark":{"type":"tick","color":"#999999","size":6,"thickness":1.2},
     "encoding":{"x":{"field":"g","type":"nominal"},"xOffset":{"field":"s","type":"nominal"},"y":{"field":"hi","type":"quantitative"}}},
    {"data":{"name":"f"},"mark":{"type":"text","fontSize":7,"color":"#666666","baseline":"bottom","dy":-1},
     "encoding":{"x":{"field":"g","type":"nominal"},"xOffset":{"field":"s","type":"nominal"},"y":{"field":"hi","type":"quantitative"},"text":{"field":"sig"}}},
    {"data":{"name":"f_br"},"mark":{"type":"rule","color":"#f7952e","strokeWidth":1.5},
     "encoding":{"x":{"field":"g","type":"nominal"},"xOffset":{"field":"s","type":"nominal"},"y":{"field":"y1","type":"quantitative"},"y2":{"field":"y2"}}},
    {"data":{"name":"f_bt"},"mark":{"type":"tick","color":"#f7952e","size":12.7,"thickness":1.5},
     "encoding":{"x":{"field":"g","type":"nominal"},"y":{"field":"t","type":"quantitative"}}},
    {"data":{"name":"f_bt"},"mark":{"type":"text","color":"#f7952e","fontSize":7,"baseline":"bottom","dy":-2},
     "encoding":{"x":{"field":"g","type":"nominal"},"y":{"field":"t","type":"quantitative"},"text":{"field":"lab"}}}
   ]},
  {"width":305,"height":19,"view":{"stroke":null},"data":{"name":"cells"},"layer":[
    {"mark":{"type":"rect","fill":"#b5b5b5","stroke":"#4d4d4d","strokeWidth":1.2},"encoding":{"x":{"field":"g","type":"nominal","sort":null,"scale":{"paddingInner":0,"paddingOuter":0},"axis":null}}},
    {"mark":{"type":"text","fontWeight":"bold","fontSize":12.5,"color":"#1a1a1a"},"encoding":{"x":{"field":"g","type":"nominal","sort":null,"axis":null},"text":{"field":"lab"}}}]},
  {"width":305,"height":19,"view":{"stroke":null},"data":{"name":"conc"},"layer":[
    {"mark":{"type":"rect","fill":"#b5b5b5","stroke":"#4d4d4d","strokeWidth":1.2},"encoding":{"x":{"field":"c","type":"nominal","sort":null,"scale":{"paddingInner":0,"paddingOuter":0},"axis":null}}},
    {"mark":{"type":"text","fontWeight":"bold","fontSize":12.5,"color":"#1a1a1a"},"encoding":{"x":{"field":"c","type":"nominal","sort":null,"axis":null},"text":{"field":"lab"}}}]}
 ], "spacing":0, "bounds":"flush", "resolve":{"scale":{"x":"independent","y":"independent","xOffset":"independent","fill":"independent","stroke":"independent"},"legend":{"fill":"independent","stroke":"independent"}}}
],
"columns": 2,
"spacing": {"row": 10, "column": 24},
"resolve":{"scale":{"x":"independent","y":"independent","xOffset":"independent","fill":"independent","stroke":"independent"},"legend":{"fill":"independent","stroke":"independent"}}
}
